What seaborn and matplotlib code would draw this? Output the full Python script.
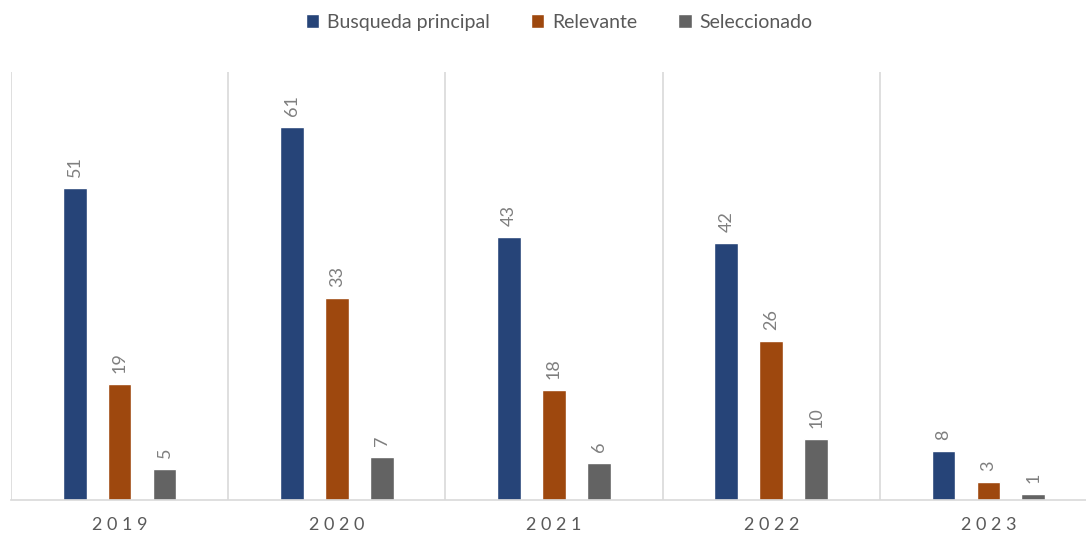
import matplotlib
matplotlib.use("Agg")
import matplotlib.pyplot as plt
import seaborn as sns
import pandas as pd

years = ["2019", "2020", "2021", "2022", "2023"]
series = ["Busqueda principal", "Relevante", "Seleccionado"]
busqueda = [51, 61, 43, 42, 8]
relevante = [19, 33, 18, 26, 3]
seleccionado = [5, 7, 6, 10, 1]
colors = ["#264478", "#9E480E", "#636363"]

df = pd.DataFrame({
    "year": years * 3,
    "serie": [series[0]] * 5 + [series[1]] * 5 + [series[2]] * 5,
    "value": busqueda + relevante + seleccionado,
})

sns.set_theme(style="white")
plt.rcParams["font.family"] = ["Lato", "DejaVu Sans"]

fig = plt.figure(figsize=(10.86, 5.35), dpi=100)
ax = fig.add_axes([11 / 1086, 35 / 535, 1086 / 1086, 428 / 535])

sns.barplot(data=df, x="year", y="value", hue="serie", order=years,
            hue_order=series, palette=colors, width=0.62, gap=0.47,
            saturation=1, ax=ax, legend=True)

for cont in ax.containers:
    ax.bar_label(cont, rotation=90, padding=8, color="#7F7F7F", fontsize=13)

ax.set_ylim(0, 70)
ax.set_xlim(-0.5, 4.5)
for xb in [-0.5, 0.5, 1.5, 2.5, 3.5, 4.5]:
    ax.axvline(xb, color="#D9D9D9", lw=1.2, zorder=0)

for s in ["top", "right", "left"]:
    ax.spines[s].set_visible(False)
ax.spines["bottom"].set_color("#D9D9D9")
ax.spines["bottom"].set_linewidth(1.2)

ax.set_yticks([])
ax.set_xlabel("")
ax.set_ylabel("")
ax.set_xticks(range(len(years)))
ax.set_xticklabels([" ".join(y) for y in years], color="#595959", fontsize=13)
ax.tick_params(axis="x", length=0, pad=12)

ax.legend(loc="center", bbox_to_anchor=(559 / 1086, 1 - 22 / 535),
          bbox_transform=fig.transFigure, ncol=3, frameon=False,
          fontsize=14, handlelength=0.7, handleheight=0.7,
          handletextpad=0.4, columnspacing=2.1, labelcolor="#595959")

fig.savefig("out.png", dpi=100)
